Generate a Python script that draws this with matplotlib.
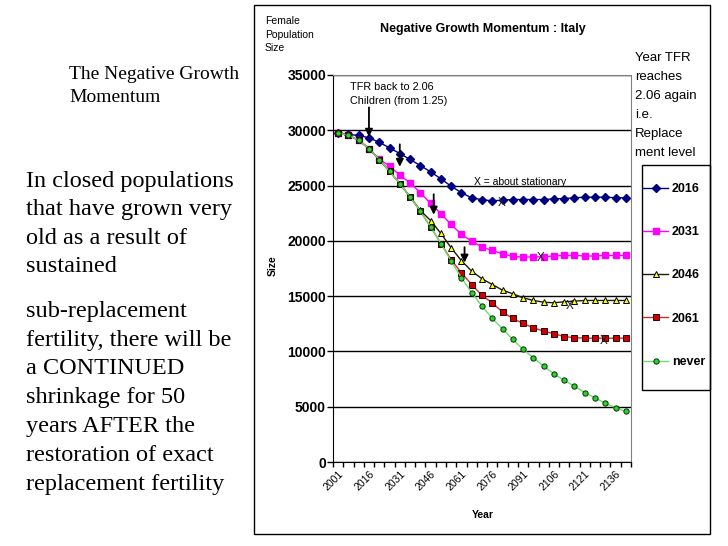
import matplotlib.pyplot as plt
from matplotlib.patches import Rectangle

plt.rcParams['font.family'] = ['Liberation Sans', 'DejaVu Sans']

years = list(range(2001, 2146, 5))
pop_2016 = [29770, 29620, 29530, 29320, 28920, 28410, 27900, 27360, 26810, 26240,
            25610, 24940, 24350, 23890, 23720, 23620, 23680, 23740, 23740, 23740,
            23740, 23800, 23830, 23890, 23950, 23950, 23950, 23900, 23890]
pop_2031 = [29760, 29550, 29100, 28350, 27400, 26750, 25940, 25250, 24350, 23380,
            22450, 21480, 20580, 19970, 19440, 19130, 18830, 18590, 18540, 18550,
            18560, 18640, 18680, 18680, 18630, 18630, 18680, 18680, 18680]
pop_2046 = [29760, 29550, 29100, 28350, 27350, 26300, 25180, 23980, 22750, 21840,
            20670, 19370, 18200, 17260, 16570, 16050, 15540, 15210, 14850, 14610,
            14450, 14400, 14490, 14550, 14610, 14610, 14610, 14610, 14610]
pop_2061 = [29760, 29550, 29100, 28350, 27350, 26300, 25180, 23980, 22680, 21270,
            19760, 18300, 17110, 16050, 15060, 14400, 13550, 12980, 12530, 12140,
            11830, 11600, 11350, 11240, 11200, 11200, 11200, 11200, 11200]
pop_never = [29760, 29550, 29100, 28350, 27350, 26300, 25180, 23980, 22680, 21270,
             19760, 18170, 16660, 15300, 14100, 12980, 12050, 11080, 10180, 9430,
             8670, 7980, 7380, 6860, 6270, 5810, 5300, 4910, 4570]

# arrows: where TFR gets back to 2.06
arrow_idx = [3, 6, 9.3, 12.3]
arrow_tip = [29160, 26450, 22120, 17780]
arrow_tail = [32320, 28980, 24470, 19680]
# "X" = about stationary
stat_idx = [15.9, 19.75, 22.55, 25.8]
stat_val = [23450, 18480, 14100, 10930]

heading_lines = ['The Negative Growth', 'Momentum']
left_lines_1 = ['In closed populations', 'that have grown very', 'old as a result of', 'sustained']
left_lines_2 = ['sub-replacement', 'fertility, there will be', 'a CONTINUED',
                'shrinkage for 50', 'years AFTER the', 'restoration of exact',
                'replacement fertility']
legend_note = ['Year TFR', 'reaches', '2.06 again', 'i.e.', 'Replace', 'ment level']

W, H = 728, 546
fig = plt.figure(figsize=(7.28, 5.46), dpi=100)
ax = fig.add_axes([333 / W, 1 - 462 / H, 298 / W, 387 / H])

x = list(range(len(years)))
ax.plot(x, pop_2016, color='#000080', lw=1, marker='D', ms=4, mfc='#000080', mec='#000080', label='2016')
ax.plot(x, pop_2031, color='#FF00FF', lw=1, marker='s', ms=4.6, mfc='#FF00FF', mec='#FF00FF', label='2031')
ax.plot(x, pop_2046, color='#202000', lw=1, marker='^', ms=5, mfc='#FFFF00', mec='#000000', mew=0.7, label='2046')
ax.plot(x, pop_2061, color='#C83030', lw=1, marker='s', ms=4.6, mfc='#CC0000', mec='#300000', mew=0.7, label='2061')
ax.plot(x, pop_never, color='#70DD70', lw=1, marker='o', ms=3.8, mfc='#33CC33', mec='#003300', mew=0.7, label='never')

for xi, tip, tail in zip(arrow_idx, arrow_tip, arrow_tail):
    ax.annotate('', xy=(xi, tip), xytext=(xi, tail),
                arrowprops=dict(arrowstyle='-|>', color='black', lw=1.3, mutation_scale=11))
for xi, v in zip(stat_idx, stat_val):
    ax.text(xi, v, 'X', ha='center', va='center', fontsize=8.5, color='#202020')

ax.text(1.2, 33300, 'TFR back to 2.06\nChildren (from 1.25)', fontsize=7.8, linespacing=1.45, va='center')
ax.text(13.2, 25320, 'X = about stationary', fontsize=7.5, va='center')

ax.set_xlim(-0.5, len(years) - 0.5)
ax.set_ylim(0, 35000)
ax.set_yticks(range(0, 35001, 5000))
ax.set_yticklabels([str(v) for v in range(0, 35001, 5000)], fontsize=10, fontweight='bold')
ax.set_xticks(x[::3])
ax.set_xticklabels([str(y) for y in years[::3]], rotation=45, ha='right',
                   rotation_mode='anchor', fontsize=7.5)
ax.set_xticks([i - 0.5 for i in range(len(years) + 1)], minor=True)
ax.tick_params(axis='x', which='major', length=0, pad=5)
ax.tick_params(axis='x', which='minor', length=3.5, direction='out', width=1)
ax.tick_params(axis='y', length=4, width=1, pad=1)
ax.yaxis.grid(True, color='black', lw=1)
ax.set_axisbelow(True)
for s in ['left', 'bottom']:
    ax.spines[s].set_color('black')
for s in ['top', 'right']:
    ax.spines[s].set_color('#808080')

# chart box + legend box
fig.add_artist(Rectangle((254 / W, 1 - 534 / H), 456 / W, 529 / H, transform=fig.transFigure,
                         fill=False, ec='black', lw=1))
fig.add_artist(Rectangle((642 / W, 1 - 390 / H), 68 / W, 225 / H, transform=fig.transFigure,
                         fill=False, ec='black', lw=1))
fig.legend(loc='upper left', bbox_to_anchor=(643 / W, 1 - 183 / H), frameon=False,
           prop={'size': 9, 'weight': 'bold'}, handlelength=2.0, handletextpad=0.3,
           labelspacing=2.5, borderpad=0, borderaxespad=0)

fig.text(483 / W, 1 - 29 / H, 'Negative Growth Momentum : Italy', ha='center', va='center',
         fontsize=9, fontweight='bold')
fig.text(265 / W, 1 - 16 / H, 'Female\nPopulation\nSize', ha='left', va='top', fontsize=7.5,
         linespacing=1.45)
fig.text(273 / W, 1 - 266 / H, 'Size', rotation=90, ha='center', va='center', fontsize=7.5,
         fontweight='bold')
fig.text(483 / W, 1 - 515 / H, 'Year', ha='center', va='center', fontsize=7.5, fontweight='bold')
for k, line in enumerate(legend_note):
    fig.text(635 / W, 1 - (61 + 18.9 * k) / H, line, ha='left', va='baseline', fontsize=9.5)

for k, line in enumerate(heading_lines):
    fig.text(69 / W, 1 - (79 + 22.7 * k) / H, line, ha='left', va='baseline',
             fontsize=14, family='Liberation Serif')
for k, line in enumerate(left_lines_1):
    fig.text(26 / W, 1 - (186.7 + 28.5 * k) / H, line, ha='left', va='baseline',
             fontsize=17.5, family='Liberation Serif')
for k, line in enumerate(left_lines_2):
    fig.text(26 / W, 1 - (316.7 + 28.9 * k) / H, line, ha='left', va='baseline',
             fontsize=17.5, family='Liberation Serif')

fig.savefig('out.png', dpi=100)
